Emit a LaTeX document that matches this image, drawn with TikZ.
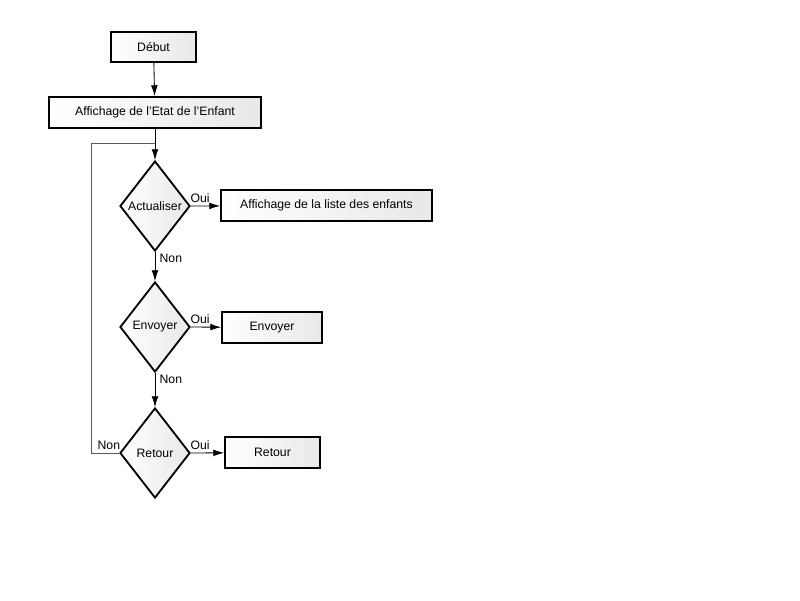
\documentclass[tikz,border=0pt]{standalone}
\usepackage{fontspec}
\setmainfont{Liberation Sans}
\usetikzlibrary{shapes.geometric,arrows.meta}
\tikzset{
  boite/.style={shape=rectangle,draw=black,line width=1.3pt,left color=white,right color=black!9,
    inner sep=0pt,font=\fontsize{8.7}{10}\selectfont},
  choix/.style={shape=diamond,draw=black,line width=1.3pt,left color=white,right color=black!9,
    inner sep=0pt,aspect=0.78,minimum width=1.75cm,minimum height=2.25cm,font=\fontsize{8.7}{10}\selectfont},
  fleche/.style={draw,-{Latex[length=0.27cm,width=0.17cm]},line width=0.6pt},
  etiq/.style={font=\fontsize{8.7}{10}\selectfont,inner sep=1pt}
}
\begin{document}
\begin{tikzpicture}[x=0.025cm,y=-0.025cm]
      \useasboundingbox (0,0) rectangle (800,600);
      \node[boite,minimum width=2.125cm,minimum height=0.75cm] (debut)  at (153.5,47) {Début};
      \node[boite,minimum width=5.3cm,minimum height=0.775cm] (etat)  at (155,112.5) {Affichage de l'Etat de l'Enfant};
      \node[choix] (actu)  at (155,206) {Actualiser};
      \node[boite,minimum width=5.275cm,minimum height=0.775cm] (liste)  at (326.5,205.5) {Affichage de la liste des enfants};
      \node[choix] (envq)  at (155,327) {Envoyer};
      \node[boite,minimum width=2.5cm,minimum height=0.775cm] (env)  at (272,327.5) {Envoyer};
      \node[choix] (retq)  at (155,453) {Retour};
      \node[boite,minimum width=2.375cm,minimum height=0.775cm] (ret)  at (272.5,452.5) {Retour};
      \coordinate (jonction) at (155,143);
      \coordinate (coin) at (91,143);
      \path
      (debut) edge[fleche] (etat)
      (etat) edge[fleche] (actu)
      (actu.east) edge[fleche] node[etiq,anchor=south west,pos=0,xshift=-1.5pt,yshift=1pt] {Oui} (liste)
      (actu.south) edge[fleche] node[etiq,anchor=north west,pos=0,xshift=2pt] {Non} (envq)
      (envq.east) edge[fleche] node[etiq,anchor=south west,pos=0,xshift=-1.5pt,yshift=1pt] {Oui} (env)
      (envq.south) edge[fleche] node[etiq,anchor=north west,pos=0,xshift=2pt] {Non} (retq)
      (retq.east) edge[fleche] node[etiq,anchor=south west,pos=0,xshift=-1.5pt,yshift=1pt] {Oui} (ret);
      \draw[black!65,line width=0.6pt] (retq.west) node[etiq,anchor=south east,black,xshift=2pt,yshift=1pt] {Non} -| (coin) -- (jonction);
    \end{tikzpicture}
\end{document}
